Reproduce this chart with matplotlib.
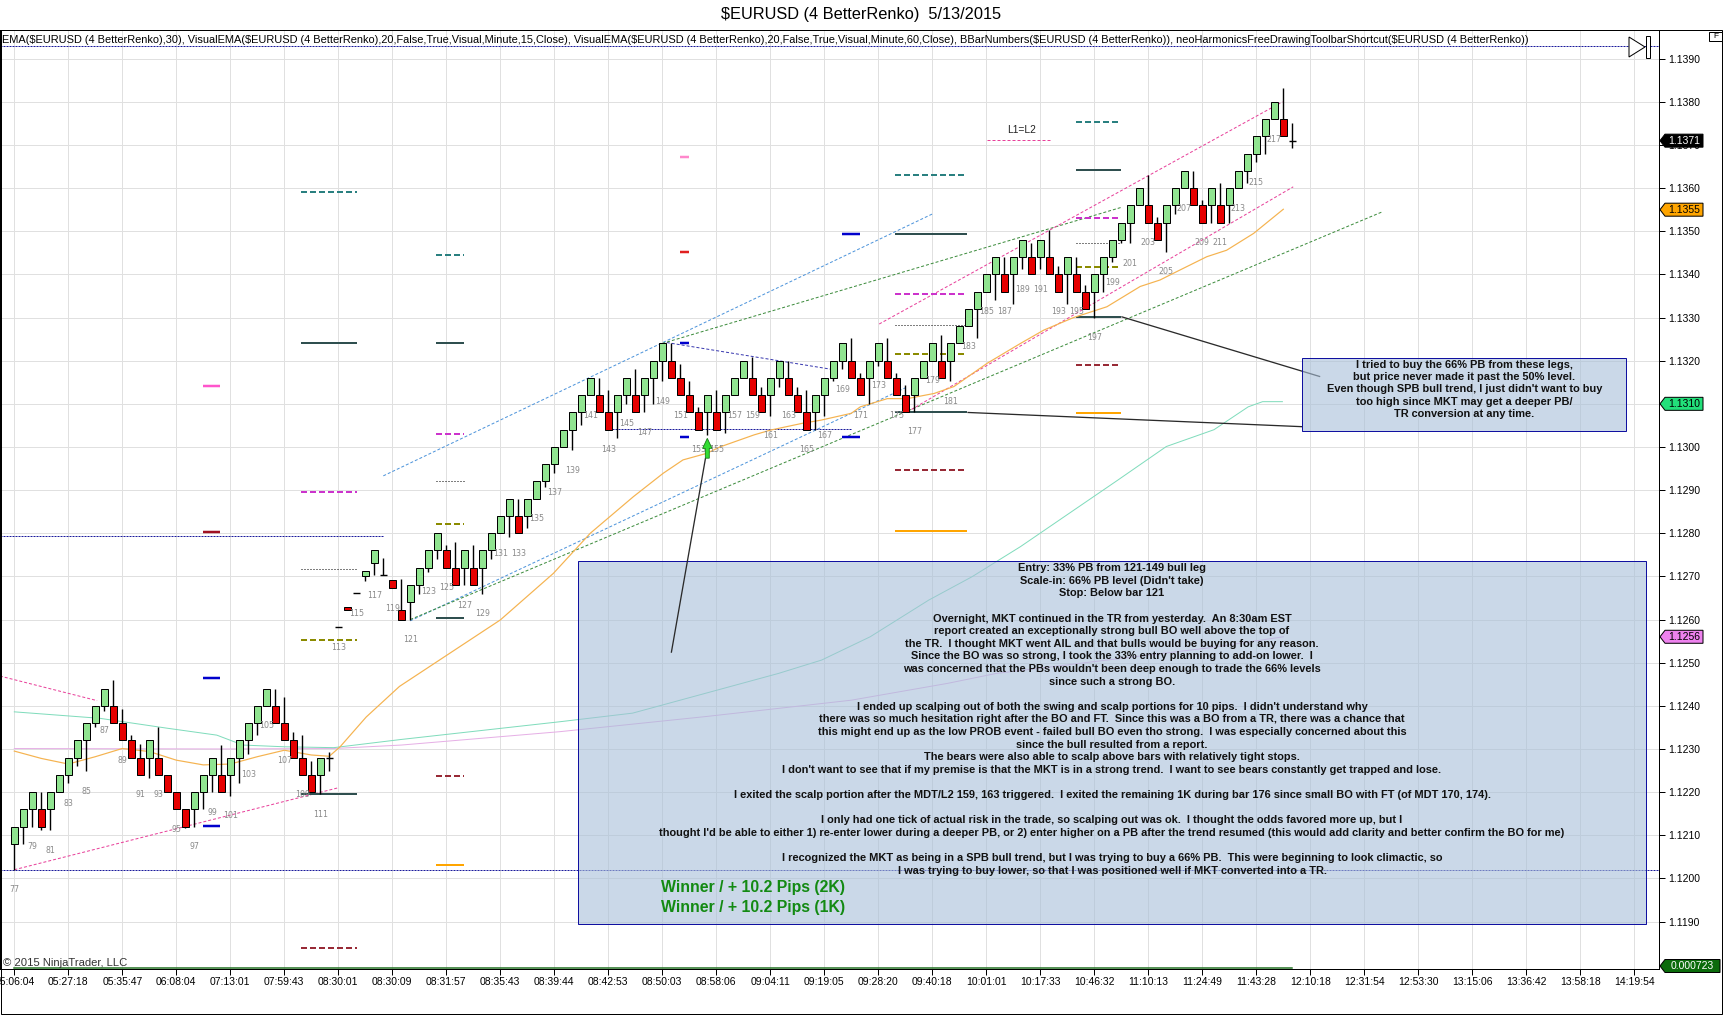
import matplotlib
matplotlib.use("Agg")
import matplotlib.pyplot as plt
from matplotlib.patches import Rectangle, Polygon
from matplotlib.transforms import IdentityTransform

plt.rcParams['lines.scale_dashes'] = False
plt.rcParams['font.family'] = ['Liberation Sans', 'DejaVu Sans']

W, H, DPI = 1723, 1015, 100
PX = 72.0 / DPI

# ---------------- data ----------------
first_bar = 77
last_numbered_bar = 217
opens = [1.1208, 1.1212, 1.1216, 1.1216, 1.1216, 1.1220, 1.1224, 1.1228, 1.1232, 1.1236,
         1.1240, 1.1240, 1.1236, 1.1232, 1.1228, 1.1228, 1.1228, 1.1224, 1.1220, 1.1216,
         1.1216, 1.1220, 1.1224, 1.1224, 1.1224, 1.1228, 1.1232, 1.1236, 1.1240, 1.1240,
         1.1236, 1.1232, 1.1228, 1.1224, 1.1224, 1.1228, 1.12582, 1.1263, 1.12661, 1.12702,
         1.1273, 1.12703, 1.12692, 1.12622, 1.1264, 1.1268, 1.1272, 1.1276, 1.1276, 1.1272,
         1.1272, 1.1272, 1.1272, 1.1276, 1.1280, 1.1284, 1.1284, 1.1284, 1.1288, 1.1292,
         1.1296, 1.1300, 1.1304, 1.1308, 1.1312, 1.1312, 1.1308, 1.1308, 1.1312, 1.1312,
         1.1312, 1.1316, 1.1320, 1.1320, 1.1316, 1.1312, 1.1308, 1.1308, 1.1308, 1.1308,
         1.1312, 1.1316, 1.1316, 1.1312, 1.1312, 1.1316, 1.1316, 1.1312, 1.1308, 1.1308,
         1.1312, 1.1316, 1.1320, 1.1320, 1.1316, 1.1316, 1.1320, 1.1320, 1.1316, 1.1312,
         1.1312, 1.1316, 1.1320, 1.1320, 1.1320, 1.1324, 1.1328, 1.1332, 1.1336, 1.1340,
         1.1340, 1.1340, 1.1344, 1.1344, 1.1344, 1.1344, 1.1340, 1.1340, 1.1340, 1.1336,
         1.1336, 1.1340, 1.1344, 1.1348, 1.1352, 1.1356, 1.1356, 1.1352, 1.1352, 1.1356,
         1.1360, 1.1360, 1.1356, 1.1356, 1.1356, 1.1356, 1.1360, 1.1364, 1.1368, 1.1372,
         1.1376, 1.1376, 1.1371]
highs = [1.1212, 1.1216, 1.1220, 1.1220, 1.1220, 1.1224, 1.1228, 1.1232, 1.1236, 1.1240,
         1.1244, 1.1246, 1.12392, 1.12332, 1.12312, 1.1232, 1.12352, 1.1224, 1.1220, 1.1216,
         1.1220, 1.1224, 1.1228, 1.12308, 1.1228, 1.1232, 1.1236, 1.1240, 1.1244, 1.1244,
         1.1242, 1.1234, 1.12332, 1.12272, 1.1228, 1.12292, 1.12582, 1.1263, 1.12661, 1.12712,
         1.1276, 1.12742, 1.12692, 1.12693, 1.1268, 1.1272, 1.1276, 1.1280, 1.12772, 1.1278,
         1.1276, 1.12772, 1.1276, 1.1280, 1.1284, 1.1288, 1.1288, 1.1288, 1.1292, 1.1296,
         1.1300, 1.1304, 1.1308, 1.1312, 1.1316, 1.1316, 1.13132, 1.1312, 1.1316, 1.1318,
         1.1316, 1.1320, 1.1324, 1.1324, 1.13192, 1.13152, 1.13092, 1.1312, 1.13132, 1.1312,
         1.1316, 1.1320, 1.13208, 1.1314, 1.1316, 1.1320, 1.1320, 1.1314, 1.13132, 1.1312,
         1.1316, 1.1320, 1.1324, 1.13252, 1.13172, 1.1320, 1.1324, 1.13252, 1.13172, 1.13144,
         1.1316, 1.1320, 1.1324, 1.1326, 1.1324, 1.1328, 1.1332, 1.1336, 1.1340, 1.1344,
         1.1344, 1.1344, 1.1348, 1.13472, 1.1348, 1.13504, 1.1342, 1.1344, 1.1344, 1.13376,
         1.1340, 1.1344, 1.1348, 1.1352, 1.1356, 1.1360, 1.1363, 1.13532, 1.1356, 1.1360,
         1.1364, 1.1364, 1.13572, 1.1360, 1.13612, 1.1360, 1.1364, 1.1368, 1.1372, 1.1376,
         1.1380, 1.13832, 1.13752]
lows = [1.1202, 1.1208, 1.1212, 1.12112, 1.12112, 1.1220, 1.1222, 1.1226, 1.12248, 1.12352,
        1.12388, 1.1236, 1.1232, 1.1228, 1.1224, 1.12232, 1.1224, 1.1220, 1.1216, 1.12116,
        1.1212, 1.1216, 1.1220, 1.1220, 1.12192, 1.1222, 1.12288, 1.12332, 1.1240, 1.1236,
        1.1232, 1.1228, 1.1224, 1.1220, 1.12195, 1.1225, 1.12582, 1.12622, 1.12661, 1.1269,
        1.12703, 1.12703, 1.12672, 1.1260, 1.1260, 1.1266, 1.12711, 1.1274, 1.1272, 1.1268,
        1.1268, 1.1268, 1.1266, 1.1274, 1.1280, 1.12792, 1.1280, 1.12812, 1.1288, 1.12908,
        1.1294, 1.1300, 1.12992, 1.13052, 1.1312, 1.1308, 1.1304, 1.1302, 1.1310, 1.1308,
        1.1308, 1.1310, 1.13152, 1.1316, 1.1312, 1.1308, 1.1304, 1.13028, 1.1304, 1.13032,
        1.1312, 1.1316, 1.1312, 1.1308, 1.13072, 1.1314, 1.1312, 1.1308, 1.1304, 1.1304,
        1.13072, 1.13152, 1.1318, 1.1316, 1.1312, 1.1310, 1.13188, 1.1316, 1.1312, 1.1308,
        1.13082, 1.1316, 1.1320, 1.1316, 1.13152, 1.1324, 1.1328, 1.13252, 1.1336, 1.1334,
        1.1336, 1.13332, 1.13412, 1.1340, 1.13412, 1.1340, 1.1336, 1.13332, 1.1336, 1.1332,
        1.1330, 1.1336, 1.13428, 1.13472, 1.13472, 1.1356, 1.1352, 1.1348, 1.13452, 1.1354,
        1.1360, 1.1356, 1.1352, 1.1352, 1.1352, 1.1352, 1.1360, 1.13612, 1.1366, 1.1368,
        1.1376, 1.1372, 1.13692]
closes = [1.1212, 1.1216, 1.1220, 1.1212, 1.1220, 1.1224, 1.1228, 1.1232, 1.1236, 1.1240,
          1.1244, 1.1236, 1.1232, 1.1228, 1.1224, 1.1232, 1.1224, 1.1220, 1.1216, 1.1212,
          1.1220, 1.1224, 1.1228, 1.1220, 1.1228, 1.1232, 1.1236, 1.1240, 1.1244, 1.1236,
          1.1232, 1.1228, 1.1224, 1.1220, 1.1228, 1.1228, 1.12582, 1.12622, 1.12661, 1.12712,
          1.1276, 1.12703, 1.12672, 1.1260, 1.1268, 1.1272, 1.1276, 1.1280, 1.1272, 1.1268,
          1.1276, 1.1268, 1.1276, 1.1280, 1.1284, 1.1288, 1.1280, 1.1288, 1.1292, 1.1296,
          1.1300, 1.1304, 1.1308, 1.1312, 1.1316, 1.1308, 1.1304, 1.1312, 1.1316, 1.1308,
          1.1316, 1.1320, 1.1324, 1.1316, 1.1312, 1.1308, 1.1304, 1.1312, 1.1304, 1.1312,
          1.1316, 1.1320, 1.1312, 1.1308, 1.1316, 1.1320, 1.1312, 1.1308, 1.1304, 1.1312,
          1.1316, 1.1320, 1.1324, 1.1316, 1.1312, 1.1320, 1.1324, 1.1316, 1.1312, 1.1308,
          1.1316, 1.1320, 1.1324, 1.1316, 1.1324, 1.1328, 1.1332, 1.1336, 1.1340, 1.1344,
          1.1336, 1.1344, 1.1348, 1.1340, 1.1348, 1.1340, 1.1336, 1.1344, 1.1336, 1.1332,
          1.1340, 1.1344, 1.1348, 1.1352, 1.1356, 1.1360, 1.1352, 1.1348, 1.1356, 1.1360,
          1.1364, 1.1356, 1.1352, 1.1360, 1.1352, 1.1360, 1.1364, 1.1368, 1.1372, 1.1376,
          1.1380, 1.1372, 1.1371]

time_labels = ["05:06:04", "05:27:18", "05:35:47", "06:08:04", "07:13:01", "07:59:43",
               "08:30:01", "08:30:09", "08:31:57", "08:35:43", "08:39:44", "08:42:53",
               "08:50:03", "08:58:06", "09:04:11", "09:19:05", "09:28:20", "09:40:18",
               "10:01:01", "10:17:33", "10:46:32", "11:10:13", "11:24:49", "11:43:28",
               "12:10:18", "12:31:54", "12:53:30", "13:15:06", "13:36:42", "13:58:18",
               "14:19:54"]
bars_per_label = 6
price_ticks = [1.1190, 1.1200, 1.1210, 1.1220, 1.1230, 1.1240, 1.1250, 1.1260, 1.1270,
               1.1280, 1.1290, 1.1300, 1.1310, 1.1320, 1.1330, 1.1340, 1.1350, 1.1360,
               1.1370, 1.1380, 1.1390]

# EMA(30) on renko bars (orange)
ema30_bars = [77, 80, 83, 86, 89, 92, 95, 98, 101, 104, 107, 110, 112, 113.2, 116.1, 119.8,
              131, 136.9, 141, 145.8, 149.1, 151.3, 153.9, 155.4, 159.2, 161, 164.6, 166.6,
              170, 171, 174, 176.2, 179.2, 181.4, 185.1, 188.8, 191.4, 194.7, 198.4, 202.1,
              204.3, 206.5, 209.5, 211.7, 214.7, 218]
ema30_vals = [1.12295, 1.12278, 1.12265, 1.12282, 1.12301, 1.12294, 1.12274, 1.12263, 1.12265,
              1.12282, 1.12297, 1.12286, 1.12283, 1.12305, 1.12374, 1.12445,
              1.12599, 1.12707, 1.12800, 1.12885, 1.12939, 1.12970, 1.12985, 1.13000, 1.13028,
              1.13039, 1.13055, 1.13062, 1.13078, 1.13093, 1.13112, 1.13112, 1.13124, 1.13140,
              1.13194, 1.13240, 1.13271, 1.13300, 1.13325, 1.13372, 1.13387, 1.13410, 1.13441,
              1.13456, 1.13495, 1.13551]
# VisualEMA 15 min (aquamarine)
ema15_bars = [77, 86.5, 94, 99.5, 102.4, 107, 112.5, 120, 137.6, 145.7, 153.8, 161.9, 166.7,
              172.1, 178.6, 183.4, 188.8, 194.2, 199.6, 205, 210.3, 214.1, 215.7, 217.9]
ema15_vals = [1.12386, 1.12371, 1.12348, 1.12332, 1.12309, 1.12305, 1.12303, 1.12322, 1.12363,
              1.12383, 1.12429, 1.12475, 1.12506, 1.12560, 1.12645, 1.12699, 1.12769, 1.12846,
              1.12923, 1.13001, 1.13040, 1.13093, 1.13105, 1.13105]
# VisualEMA 60 min (violet)
ema60_bars = [77, 100, 112.5, 120, 137.6, 153.8, 170, 180.7, 186.1, 200, 210, 218]
ema60_vals = [1.12301, 1.12300, 1.12301, 1.12309, 1.12340, 1.12375, 1.12413, 1.12452, 1.12475,
              1.12510, 1.12535, 1.12560]

# Fibonacci-style level groups drawn by the toolbar
fib_start = [108.9, 123.9, 174.9, 195.0]
fib_end = [115.1, 127.0, 182.9, 200.0]
fib_teal = [1.13591, 1.13445, 1.13630, 1.13753]
fib_top = [1.13241, 1.13240, 1.13494, 1.13643]
fib_magenta = [1.12896, 1.13030, 1.13354, 1.13531]
fib_dotted = [1.12717, 1.12920, 1.13282, 1.13472]
fib_olive = [1.12552, 1.12821, 1.13216, 1.13418]
fib_base = [1.12195, 1.12603, 1.13080, 1.13302]
fib_darkred = [1.11838, 1.12237, 1.12946, 1.13190]
fib_orange = [None, 1.12031, 1.12805, 1.13078]

# short marker levels
mark_start = [98.0, 98.0, 98.0, 98.0, 151.0, 151.0, 151.0, 151.0, 169.0, 169.0]
mark_end = [99.9, 99.9, 99.9, 99.9, 152.0, 152.0, 152.0, 152.0, 171.0, 171.0]
mark_price = [1.13141, 1.12803, 1.12465, 1.12122, 1.13671, 1.13453, 1.13242, 1.13024,
              1.13494, 1.13024]
mark_kind = ['magenta', 'darkred', 'blue', 'blue', 'pink', 'red', 'blue', 'blue', 'blue', 'blue']

# trend / channel lines (bar, price) pairs
blue_upper = [(118.0, 1.12933), (179.0, 1.13540)]
blue_lower = [(121.0, 1.12597), (176.0, 1.13137)]
green_upper = [(149.0, 1.13240), (200.1, 1.13556)]
green_lower = [(121.0, 1.12600), (229.0, 1.13545)]
pink_upper = [(173.1, 1.13285), (217.9, 1.13800)]
pink_lower = [(176.2, 1.13081), (219.1, 1.13603)]
pink_left_upper = [(75.4, 1.12469), (86.2, 1.12412)]
pink_left_lower = [(77.0, 1.12020), (113.0, 1.12210)]
navy_down = [(149.5, 1.13242), (167.8, 1.13180)]
navy_flat = [(143.1, 1.13041), (170.0, 1.13041)]
navy_left = [(75.4, 1.12794), (118.0, 1.12794)]
navy_full = [1.13929, 1.12020]
connector1 = [(182.9, 1.13080), (220.1, 1.13047)]
connector2 = [(200.0, 1.13302), (222.1, 1.13163)]
arrow_line = [(150.0, 1.12523), (153.8, 1.12974)]
l1l2_line = [(185.1, 1.13711), (192.1, 1.13711)]
entry_arrow_bar, entry_arrow_tip, entry_arrow_base = 154, 1.13020, 1.12974

# text boxes (bar0, bar1, price0, price1)
big_box = (139.67, 258.27, 1.11894, 1.12736)
right_box = (220.1, 256.1, 1.13037, 1.13206)

big_text = [
    "Entry: 33% PB from 121-149 bull leg",
    "Scale-in: 66% PB level (Didn't take)",
    "Stop: Below bar 121",
    "",
    "Overnight, MKT continued in the TR from yesterday.  An 8:30am EST",
    "report created an exceptionally strong bull BO well above the top of",
    "the TR.  I thought MKT went AIL and that bulls would be buying for any reason.",
    "Since the BO was so strong, I took the 33% entry planning to add-on lower.  I",
    "was concerned that the PBs wouldn't been deep enough to trade the 66% levels",
    "since such a strong BO.",
    "",
    "I ended up scalping out of both the swing and scalp portions for 10 pips.  I didn't understand why",
    "there was so much hesitation right after the BO and FT.  Since this was a BO from a TR, there was a chance that",
    "this might end up as the low PROB event - failed bull BO even tho strong.  I was especially concerned about this",
    "since the bull resulted from a report.",
    "The bears were also able to scalp above bars with relatively tight stops.",
    "I don't want to see that if my premise is that the MKT is in a strong trend.  I want to see bears constantly get trapped and lose.",
    "",
    "I exited the scalp portion after the MDT/L2 159, 163 triggered.  I exited the remaining 1K during bar 176 since small BO with FT (of MDT 170, 174).",
    "",
    "I only had one tick of actual risk in the trade, so scalping out was ok.  I thought the odds favored more up, but I",
    "thought I'd be able to either 1) re-enter lower during a deeper PB, or 2) enter higher on a PB after the trend resumed (this would add clarity and better confirm the BO for me)",
    "",
    "I recognized the MKT as being in a SPB bull trend, but I was trying to buy a 66% PB.  This were beginning to look climactic, so",
    "I was trying to buy lower, so that I was positioned well if MKT converted into a TR.",
]
right_text = [
    "I tried to buy the 66% PB from these legs,",
    "but price never made it past the 50% level.",
    "Even though SPB bull trend, I just didn't want to buy",
    "too high since MKT may get a deeper PB/",
    "TR conversion at any time.",
]
winner_text = ["Winner / + 10.2 Pips (2K)", "Winner / + 10.2 Pips (1K)"]
title_text = "$EURUSD (4 BetterRenko)  5/13/2015"
legend_text = ("EMA($EURUSD (4 BetterRenko),30), VisualEMA($EURUSD (4 BetterRenko),20,False,True,"
               "Visual,Minute,15,Close), VisualEMA($EURUSD (4 BetterRenko),20,False,True,Visual,"
               "Minute,60,Close), BBarNumbers($EURUSD (4 BetterRenko)), "
               "neoHarmonicsFreeDrawingToolbarShortcut($EURUSD (4 BetterRenko))")
last_price = 1.1371
ema_tags = [(1.1355, '1.1355'), (1.1310, '1.1310'), (1.1256, '1.1256')]
panel_value = "0.000723"

# ---------------- figure ----------------
fig = plt.figure(figsize=(W / DPI, H / DPI), dpi=DPI, facecolor='white')
renderer = fig.canvas.get_renderer()


def fit(t, target_px):
    w = t.get_window_extent(renderer).width
    t.set_fontsize(t.get_fontsize() * target_px / w)
    return t.get_fontsize()


PL, PR, PT, PB = 0, 1659, 30, 961.7
ax = fig.add_axes([PL / W, 1 - PB / H, (PR - PL) / W, (PB - PT) / H])
XL = (first_bar - 14.3 / 9, first_bar + (PR - 14.3) / 9)
YL = (1.139 - (PB - 58.7) / 43140, 1.139 + (58.7 - PT) / 43140)
ax.set_xlim(*XL)
ax.set_ylim(*YL)
ax.set_facecolor('white')

tick_bars = [first_bar + bars_per_label * i for i in range(len(time_labels))]
ax.set_xticks(tick_bars)
ax.set_xticklabels([])
ax.tick_params(axis='x', length=0)
ax.yaxis.tick_right()
ax.set_yticks(price_ticks)
ax.set_yticklabels(['%.4f' % p for p in price_ticks])
ax.tick_params(axis='y', direction='out', length=6 * PX, width=1 * PX, pad=3 * PX,
               labelsize=7.5, colors='black')
ax.grid(True, color='#e0e0e0', lw=1 * PX, zorder=0)
ax.set_axisbelow(True)
for s in ax.spines.values():
    s.set_color('black')
    s.set_linewidth(1 * PX)

# bottom mini panel with x axis
ax2 = fig.add_axes([PL / W, 1 - 969.3 / H, (PR - PL) / W, (969.3 - PB) / H])
ax2.set_xlim(*XL)
ax2.set_ylim(0, 1)
ax2.set_yticks([])
ax2.set_xticks(tick_bars)
ax2.set_xticklabels(time_labels)
ax2.tick_params(axis='x', direction='out', length=6 * PX, width=1 * PX, pad=1.5 * PX,
                labelsize=7.5)
ax2.grid(True, axis='x', color='#e0e0e0', lw=1 * PX)
ax2.spines['top'].set_visible(False)
for k in ('left', 'right', 'bottom'):
    ax2.spines[k].set_linewidth(1 * PX)
ax2.plot([first_bar, first_bar + len(opens) - 1], [0.2, 0.2], color='#1f6f1f', lw=1.5 * PX)


def seg(pts, color, lw, dashes=None, z=2):
    (x0, y0), (x1, y1) = pts
    ln, = ax.plot([x0, x1], [y0, y1], color=color, lw=lw * PX, zorder=z,
                  solid_capstyle='butt', dash_capstyle='butt')
    if dashes:
        ln.set_dashes([d * PX for d in dashes])
    return ln


# full width navy dotted lines
for p in navy_full:
    seg([(XL[0], p), (XL[1], p)], '#1a1a9c', 1, (2, 1))
seg(navy_left, '#1a1a9c', 1, (2, 1))
seg(navy_flat, '#1a1a9c', 1, (2, 1))
seg(navy_down, '#3a3ab0', 1, (3, 2))

# channel lines
for pts in (blue_upper, blue_lower):
    seg(pts, '#4d94db', 1, (3, 2))
for pts in (green_upper, green_lower):
    seg(pts, '#3d8c3d', 1, (3, 2))
for pts in (pink_upper, pink_lower, pink_left_upper, pink_left_lower, l1l2_line):
    seg(pts, '#e8409a', 1, (3, 2))

# fib groups
for i in range(len(fib_start)):
    a, b = fib_start[i], fib_end[i]
    seg([(a, fib_teal[i]), (b, fib_teal[i])], '#2a8080', 2, (6, 3))
    seg([(a, fib_top[i]), (b, fib_top[i])], '#2f4f4f', 2)
    seg([(a, fib_magenta[i]), (b, fib_magenta[i])], '#cc33cc', 2, (6, 3))
    seg([(a, fib_dotted[i]), (b, fib_dotted[i])], '#000000', 1, (1, 2))
    seg([(a, fib_olive[i]), (b, fib_olive[i])], '#8b8b00', 2, (6, 3))
    seg([(a, fib_base[i]), (b, fib_base[i])], '#2f4f4f', 2)
    seg([(a, fib_darkred[i]), (b, fib_darkred[i])], '#982a36', 2, (6, 3))
    if fib_orange[i] is not None:
        seg([(a, fib_orange[i]), (b, fib_orange[i])], '#ffa500', 2)

mark_colors = {'magenta': '#ff55cc', 'darkred': '#a01020', 'blue': '#0000cc',
               'pink': '#ff88cc', 'red': '#e02020'}
for a, b, p, k in zip(mark_start, mark_end, mark_price, mark_kind):
    seg([(a, p), (b, p)], mark_colors[k], 2.5)

# indicator curves
ax.plot(ema60_bars, ema60_vals, color='#e6b0e6', lw=1 * PX, zorder=2)
ax.plot(ema15_bars, ema15_vals, color='#80dcbc', lw=1 * PX, zorder=2)
ax.plot(ema30_bars, ema30_vals, color='#f5b350', lw=1.2 * PX, zorder=3)

# candles
bw = 0.72
for i, (o, h, l, c) in enumerate(zip(opens, highs, lows, closes)):
    b = first_bar + i
    if h > l:
        ax.vlines(b, l, h, color='black', lw=1.4 * PX, zorder=4)
    if abs(c - o) < 1e-7:
        ax.plot([b - bw / 2, b + bw / 2], [o, o], color='black', lw=1.4 * PX, zorder=5,
                solid_capstyle='butt')
    else:
        col = '#90e490' if c > o else '#e60000'
        ax.add_patch(Rectangle((b - bw / 2, min(o, c)), bw, abs(c - o), facecolor=col,
                               edgecolor='black', lw=1 * PX, zorder=5))
    if b % 2 == 1 and b <= last_numbered_bar:
        ax.text(b, l - 20 / 43140, str(b), ha='center', va='center', fontsize=5.7,
                color='#8a8a8a', family='DejaVu Sans', zorder=6)

# entry arrow
t, bs = entry_arrow_tip, entry_arrow_base
hh = 10 / 43140
xb = entry_arrow_bar
ax.add_patch(Polygon([(xb, t), (xb + 0.52, t - hh), (xb + 0.22, t - hh), (xb + 0.22, bs),
                      (xb - 0.22, bs), (xb - 0.22, t - hh), (xb - 0.52, t - hh)],
                     closed=True, facecolor='#33dd33', edgecolor='#117711', lw=0.8 * PX,
                     zorder=6))

# connector lines
seg(connector1, '#2a2a2a', 1.3, z=7)
seg(connector2, '#2a2a2a', 1.3, z=7)

# text boxes
for (x0, x1, y0, y1) in (big_box, right_box):
    ax.add_patch(Rectangle((x0, y0), x1 - x0, y1 - y0, facecolor=(0.66, 0.75, 0.85, 0.6),
                           edgecolor='#1010a0', lw=1 * PX, zorder=8))
seg(arrow_line, '#2a2a2a', 1.3, z=9)


def pix_to_data(xp, yp):
    return ax.transData.inverted().transform((xp, H - yp))


# big box text
cx = ax.transData.transform(((big_box[0] + big_box[1]) / 2, 0))[0]
ytop = ax.transData.transform((0, big_box[3]))[1]
probe = ax.text(0, 0, big_text[0], fontsize=7.5, fontweight='bold')
fs = fit(probe, 188)
probe.remove()
for i, line in enumerate(big_text):
    if not line:
        continue
    xd, yd = ax.transData.inverted().transform((cx, ytop - 7.3 - i * 12.6))
    ax.text(xd, yd, line, ha='center', va='center', fontsize=fs, fontweight='bold',
            color='#111111', zorder=10)

cx2 = ax.transData.transform(((right_box[0] + right_box[1]) / 2, 0))[0]
ytop2 = ax.transData.transform((0, right_box[3]))[1]
for i, line in enumerate(right_text):
    xd, yd = ax.transData.inverted().transform((cx2, ytop2 - 6.7 - i * 12.3))
    ax.text(xd, yd, line, ha='center', va='center', fontsize=fs, fontweight='bold',
            color='#111111', zorder=10)

# winner texts
wfs = None
for i, line in enumerate(winner_text):
    xd, yd = pix_to_data(661, 888 + i * 19.7)
    tt = ax.text(xd, yd, line, ha='left', va='center', fontsize=11, fontweight='bold',
                 color='#138a13', zorder=10)
    if wfs is None:
        wfs = fit(tt, 185)
    else:
        tt.set_fontsize(wfs)

# L1=L2 label
xd, yd = pix_to_data(1021.7, 130)
tl = ax.text(xd, yd, "L1=L2", ha='center', va='center', fontsize=8, color='#222222', zorder=6)
fit(tl, 29)

# title, legend, copyright
tt = fig.text(861 / W, 1 - 14 / H, title_text, ha='center', va='center', fontsize=10.5)
fit(tt, 282)
lg = fig.text(2 / W, 1 - 40 / H, legend_text, ha='left', va='center', fontsize=7.5)
fit(lg, 1525)
cp = fig.text(3 / W, 1 - 963 / H, "\u00a9 2015 NinjaTrader, LLC", ha='left', va='center',
              fontsize=7, color='#333333', zorder=5)
fit(cp, 124)

# price tags on the axis
idt = IdentityTransform()


def tag(yd, label, fc, tc, width=44):
    x0 = PR
    pts = [(x0 + 1, yd), (x0 + 6, yd + 6.5), (x0 + width, yd + 6.5), (x0 + width, yd - 6.5),
           (x0 + 6, yd - 6.5)]
    fig.add_artist(Polygon(pts, closed=True, facecolor=fc, edgecolor='black', lw=1 * PX,
                           transform=idt, zorder=5))
    fig.text((x0 + 6 + (width - 6) / 2) / W, yd / H, label, ha='center', va='center',
             fontsize=7.5, color=tc, zorder=6)


def price_y(p):
    return ax.transData.transform((XL[1], p))[1]


tag(price_y(last_price), '%.4f' % last_price, '#000000', 'white')
tag_colors = ['#ffa500', '#22e07a', '#ee82ee']
for (p, lab), c in zip(ema_tags, tag_colors):
    tag(price_y(p), lab, c, 'black')
tag(H - 966, panel_value, '#0b6b0b', 'white', width=61)

# scroll symbol and F box
fig.add_artist(Polygon([(1629, H - 37), (1629, H - 57), (1645, H - 47)], closed=True,
                       facecolor='white', edgecolor='black', lw=1 * PX, transform=idt,
                       zorder=5))
fig.add_artist(Rectangle((1646, H - 58), 4, 22, facecolor='white', edgecolor='black',
                         lw=1 * PX, transform=idt, zorder=5))
fig.add_artist(Rectangle((1709, H - 41), 13, 9.5, facecolor='white', edgecolor='black',
                         lw=1 * PX, transform=idt, zorder=5))
fig.text(1715.5 / W, 1 - 36.5 / H, "F", ha='center', va='center', fontsize=6, zorder=6)

# outer frame
fig.add_artist(Rectangle((0.5, 1.5), W - 1.5, H - 30 - 1.5, facecolor='none',
                         edgecolor='black', lw=1 * PX, transform=idt, zorder=4))

fig.savefig("out.png", dpi=DPI, facecolor='white')
